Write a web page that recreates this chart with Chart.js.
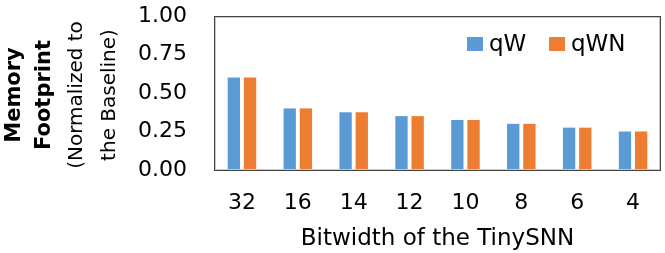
<!DOCTYPE html>
<html lang="en">
<head>
    <meta charset="UTF-8">
    <title>Memory Footprint vs Bitwidth</title>
    <script src="https://cdn.jsdelivr.net/npm/chart.js"></script>
    <style>
        body { margin: 0; background: #ffffff; }
        #wrap { width: 665px; height: 253px; }
    </style>
</head>
<body>
    <div id="wrap"><canvas id="memChart" width="665" height="253"></canvas></div>
    <script>
        // data
        const categories = ['32', '16', '14', '12', '10', '8', '6', '4'];
        const qW  = [0.60, 0.40, 0.375, 0.35, 0.325, 0.30, 0.275, 0.25];
        const qWN = [0.60, 0.40, 0.375, 0.35, 0.325, 0.30, 0.275, 0.25];
        const yTicks = [0, 0.25, 0.5, 0.75, 1.0];

        const FONT = "'DejaVu Sans', sans-serif";

        // dark box around the plot with a faint inner line
        const framePlugin = {
            id: 'frame',
            afterDatasetsDraw(chart) {
                const { ctx, chartArea: a } = chart;
                const l = Math.round(a.left), t = Math.round(a.top);
                const r = Math.round(a.right), b = Math.round(a.bottom);
                ctx.save();
                ctx.lineWidth = 1;
                ctx.strokeStyle = '#c8c8c8';
                ctx.strokeRect(l + 1.5, t + 1.5, r - l - 3, b - t - 2);
                ctx.strokeStyle = '#444444';
                ctx.strokeRect(l + 0.5, t + 0.5, r - l - 1, b - t);
                ctx.restore();
            }
        };

        // y title: two bold lines + two normal lines, rotated
        const yTitlePlugin = {
            id: 'yTitle',
            afterDraw(chart) {
                const ctx = chart.ctx;
                const lines = [
                    { t: 'Memory', b: true, x: 15, s: 21 },
                    { t: 'Footprint', b: true, x: 45, s: 21 },
                    { t: '(Normalized to', b: false, x: 77, s: 20 },
                    { t: 'the Baseline)', b: false, x: 110, s: 20 }
                ];
                ctx.save();
                ctx.fillStyle = '#000';
                ctx.textAlign = 'center';
                ctx.textBaseline = 'middle';
                lines.forEach(l => {
                    ctx.save();
                    ctx.translate(l.x, 95);
                    ctx.rotate(-Math.PI / 2);
                    ctx.font = (l.b ? 'bold ' : '') + l.s + 'px ' + FONT;
                    ctx.fillText(l.t, 0, 0);
                    ctx.restore();
                });
                ctx.restore();
            }
        };

        // legend drawn inside the plot, top right
        const legendPlugin = {
            id: 'innerLegend',
            afterDraw(chart) {
                const ctx = chart.ctx;
                const y = 44;
                let x = 467;
                ctx.save();
                ctx.font = '23px ' + FONT;
                ctx.textBaseline = 'middle';
                chart.data.datasets.forEach(ds => {
                    ctx.fillStyle = ds.backgroundColor;
                    ctx.fillRect(x, y - 7, 16, 14);
                    ctx.fillStyle = '#000';
                    ctx.fillText(ds.label, x + 22, y + 1);
                    x += 82;
                });
                ctx.restore();
            }
        };

        new Chart(document.getElementById('memChart'), {
            type: 'bar',
            data: {
                labels: categories,
                datasets: [
                    { label: 'qW', data: qW, backgroundColor: '#5B9BD5', borderWidth: 0 },
                    { label: 'qWN', data: qWN, backgroundColor: '#ED7D31', borderWidth: 0 }
                ]
            },
            options: {
                responsive: false,
                animation: false,
                layout: { padding: { top: 16, right: 4, left: 0, bottom: 0 } },
                datasets: {
                    bar: { categoryPercentage: 0.58, barPercentage: 0.76 }
                },
                plugins: {
                    legend: { display: false },
                    tooltip: { enabled: false }
                },
                scales: {
                    x: {
                        grid: { display: false, drawTicks: false },
                        border: { display: false },
                        ticks: { color: '#000', font: { family: FONT, size: 22 }, padding: 20 },
                        title: {
                            display: true,
                            text: 'Bitwidth of the TinySNN',
                            color: '#000',
                            font: { family: FONT, size: 23 },
                            padding: { top: 3, bottom: 0 }
                        },
                        afterFit(scale) {
                            scale.height = 83;
                            scale.paddingLeft = 0;
                            scale.paddingRight = 0;
                        }
                    },
                    y: {
                        min: 0,
                        max: 1,
                        grid: { display: false, drawTicks: false },
                        border: { display: false },
                        afterBuildTicks(scale) {
                            scale.ticks = yTicks.map(v => ({ value: v }));
                        },
                        ticks: {
                            color: '#000',
                            font: { family: FONT, size: 22 },
                            padding: 27,
                            callback: v => Number(v).toFixed(2)
                        },
                        afterFit(scale) {
                            scale.width = 214;
                            scale.paddingTop = 0;
                            scale.paddingBottom = 0;
                        }
                    }
                }
            },
            plugins: [framePlugin, yTitlePlugin, legendPlugin]
        });
    </script>
</body>
</html>
